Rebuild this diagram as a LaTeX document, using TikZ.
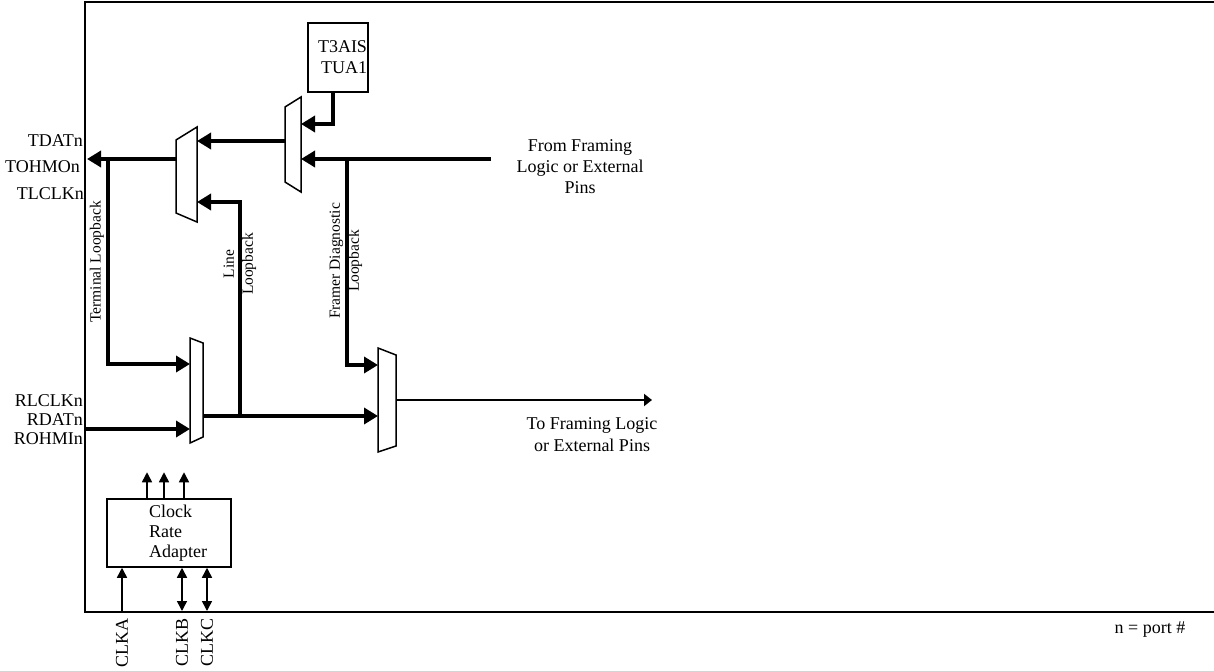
\documentclass[tikz,border=0pt]{standalone}
\usepackage{fontspec}
\setmainfont{Liberation Serif}
\usetikzlibrary{arrows.meta}

\begin{document}
\begin{tikzpicture}[x=1pt,y=-1pt,
    txt/.style={inner sep=0pt,font=\fontsize{18}{21}\selectfont},
    vtxt/.style={inner sep=0pt,rotate=90,align=center,font=\fontsize{15.5}{19}\selectfont},
    mux/.style={draw,line width=1.5pt,fill=white},
    blk/.style={draw,line width=1.5pt,inner sep=1pt},
    bus/.style={line width=4pt,-{Triangle[length=14pt,width=16pt]}},
    sig/.style={line width=1.5pt,-{Triangle[length=10pt,width=10pt]}},
    bisig/.style={line width=1.5pt,{Triangle[length=10pt,width=10pt]}-{Triangle[length=10pt,width=10pt]}}]

\useasboundingbox (0,0) rectangle (1214,671);
\draw[line width=2pt] (1214,2) -- (85,2) -- (85,612) -- (1214,612);

\coordinate (muxa-in1) at (301,124);
\coordinate (muxa-in2) at (301,159);
\coordinate (muxa-out) at (285,141);
\coordinate (muxb-in1) at (197,141);
\coordinate (muxb-in2) at (197,202);
\coordinate (muxb-out) at (176,159);
\coordinate (muxc-in1) at (190,364);
\coordinate (muxc-in2) at (190,429);
\coordinate (muxc-out) at (203,416);
\coordinate (muxd-in1) at (378,365);
\coordinate (muxd-in2) at (378,416);
\coordinate (muxd-out) at (396,400);

\coordinate (tx-pin) at (87,159);
\coordinate (rx-pin) at (85,429);
\coordinate (from-fr) at (491,159);
\coordinate (to-fr) at (652,400);
\coordinate (term-lb) at (108,159);
\coordinate (line-lb) at (240,416);
\coordinate (fd-lb) at (347,159);

\node[blk,txt,minimum width=60pt,minimum height=69pt,text width=58pt,align=right] (t3ais) at (338,57.5) {T3AIS\\TUA1};

\draw[bus] ([xshift=-5pt]t3ais.south) |- (muxa-in1);
\draw[bus] (from-fr) -- (muxa-in2);
\draw[bus] (muxa-out) -- (muxb-in1);
\draw[bus] (muxb-out) -- (tx-pin);
\draw[bus] (term-lb) |- (muxc-in1);
\draw[bus] (line-lb) |- (muxb-in2);
\draw[bus] (rx-pin) -- (muxc-in2);
\draw[bus] (muxc-out) -- (muxd-in2);
\draw[bus] (fd-lb) |- (muxd-in1);
\draw[line width=2.5pt,-{Triangle[length=8pt,width=12pt]}] (muxd-out) -- (to-fr);

\draw[mux] (285,107) -- (301,97) -- (301,192) -- (285,182) -- cycle;
\draw[mux] (176,140) -- (197,127) -- (197,222) -- (176,213) -- cycle;
\draw[mux] (190,338) -- (203,343) -- (203,437) -- (190,443) -- cycle;
\draw[mux] (378,348) -- (396,355) -- (396,446) -- (378,452) -- cycle;

\node[txt,anchor=base east] (tdat) at (83,147) {TDATn};
\node[txt,anchor=base east] (tohmo) at (80,172) {TOHMOn};
\node[txt,anchor=base east] (tlclk) at (84,199) {TLCLKn};
\node[txt,anchor=base east] (rlclk) at (83,406) {RLCLKn};
\node[txt,anchor=base east] (rdat) at (83,425) {RDATn};
\node[txt,anchor=base east] (rohmi) at (83,444) {ROHMIn};

\node[txt,align=center] (from-txt) at (580,167) {From Framing\\Logic or External\\Pins};
\node[txt,align=center,font=\fontsize{18}{22}\selectfont] (to-txt) at (592,435) {To Framing Logic\\or External Pins};

\node[vtxt] (term-txt) at (97,262) {Terminal Loopback};
\node[vtxt] (line-txt) at (240,264) {Line\\Loopback};
\node[vtxt] (fd-txt) at (346,261) {Framer Diagnostic\\Loopback};

\node[blk,minimum width=124pt,minimum height=68pt] (cra) at (169,533) {};
\node[txt,align=left,anchor=west,font=\fontsize{18}{20}\selectfont] (cra-txt) at (149,533) {Clock\\Rate\\Adapter};

\draw[sig] (cra.north -| 147,0) -- ++(0,-26);
\draw[sig] (cra.north -| 164,0) -- ++(0,-26);
\draw[sig] (cra.north -| 184,0) -- ++(0,-26);

\coordinate (clka-pin) at (122,612);
\coordinate (clkb-pin) at (182,611);
\coordinate (clkc-pin) at (207,611);
\draw[sig] (clka-pin) -- (clka-pin |- cra.south);
\draw[bisig] (clkb-pin) -- (clkb-pin |- cra.south);
\draw[bisig] (clkc-pin) -- (clkc-pin |- cra.south);

\node[txt,rotate=90,anchor=east] (clka) at (122,618) {CLKA};
\node[txt,rotate=90,anchor=east] (clkb) at (182,618) {CLKB};
\node[txt,rotate=90,anchor=east] (clkc) at (207,618) {CLKC};

\node[txt,anchor=base] (port) at (1150,633) {n = port \#};
\end{tikzpicture}
\end{document}
